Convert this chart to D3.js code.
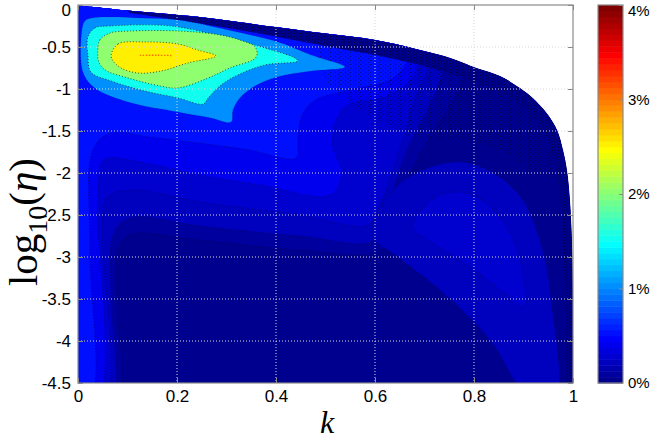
<!DOCTYPE html>
<html><head><meta charset="utf-8">
<script src="https://cdn.jsdelivr.net/npm/d3@7"></script>
<style>body{margin:0;background:#fff}svg{display:block}</style>
</head><body>
<svg id="c" width="650" height="440"></svg>
<script>
// ---------- data ----------
const kTicks = [0, 0.2, 0.4, 0.6, 0.8, 1];
const kTickLabels = ["0", "0.2", "0.4", "0.6", "0.8", "1"];
const etaTicks = [0, -0.5, -1, -1.5, -2, -2.5, -3, -3.5, -4, -4.5];
const etaTickLabels = ["0", "-0.5", "-1", "-1.5", "-2", "-2.5", "-3", "-3.5", "-4", "-4.5"];
const cbTicks = [0, 1, 2, 3, 4];
const cbTickLabels = ["0%", "1%", "2%", "3%", "4%"];

// upper/right edge of the computed domain (k, log10 eta)
const boundary = [[0,-0.01],[0.05,-0.035],[0.1,-0.065],[0.17,-0.1],[0.246,-0.143],[0.32,-0.2],[0.398,-0.262],[0.5,-0.34],[0.6,-0.417],[0.68,-0.52],[0.752,-0.631],[0.8,-0.738],[0.853,-0.845],[0.893,-0.988],[0.919,-1.107],[0.947,-1.286],[0.968,-1.488],[0.98,-1.726],[0.988,-1.964],[0.994,-2.321],[0.998,-2.798],[1.0,-3.5],[1.0,-4.5]];
// inner edge of the near-zero band along the domain edge
const edgeBand = [[0.105,-0.095],[0.202,-0.179],[0.303,-0.274],[0.404,-0.381],[0.509,-0.5],[0.6,-0.595],[0.691,-0.714],[0.772,-0.857],[0.853,-1.036],[0.893,-1.19],[0.933,-1.429],[0.954,-1.667],[0.968,-1.964],[0.974,-2.321],[0.98,-2.798],[0.984,-3.512],[0.986,-4.6]];
// noisy (speckled) area in the upper right
const noisyZone = [[0.5,-0.3],[1.05,-0.3],[1.05,-2.2],[0.93,-2.0],[0.86,-1.75],[0.78,-1.6],[0.7,-1.6],[0.63,-1.45],[0.56,-1.2],[0.5,-0.9]];

// filled contour regions, values in percent
const levels = [0, 0.1, 0.2, 0.3, 0.4, 0.5, 1, 1.5, 2, 2.5, 3];
const region01 = [[-0.04,0.3],[0.8,0.3],[0.78,-0.85],[0.73,-1.4],[0.68,-1.9],[0.64,-2.45],[0.612,-2.917],[0.448,-2.917],[0.246,-2.798],[0.105,-2.738],[0.081,-2.917],[0.079,-3.6],[0.077,-4.7],[-0.04,-4.7]];
const region02 = [[-0.04,0.3],[0.76,0.3],[0.74,-0.75],[0.71,-1.2],[0.665,-1.726],[0.63,-2.321],[0.6,-2.798],[0.448,-2.75],[0.246,-2.631],[0.105,-2.536],[0.071,-2.738],[0.067,-3.512],[0.065,-4.7],[-0.04,-4.7]];
const dome02 = [[0.594,-2.75],[0.62,-2.321],[0.651,-2.119],[0.711,-1.929],[0.778,-1.869],[0.846,-2.024],[0.899,-2.321],[0.939,-2.917],[0.956,-3.512],[0.964,-4.7],[0.913,-4.7],[0.832,-3.988],[0.731,-3.393],[0.64,-2.976]];
const region03 = [[-0.04,0.3],[0.72,0.3],[0.71,-0.7],[0.68,-1.131],[0.65,-1.726],[0.61,-2.381],[0.585,-2.619],[0.448,-2.5],[0.246,-2.345],[0.105,-2.202],[0.057,-2.321],[0.053,-4.7],[-0.04,-4.7]];
const dome03 = [[0.677,-2.643],[0.701,-2.381],[0.731,-2.262],[0.772,-2.226],[0.816,-2.321],[0.867,-2.643],[0.893,-3.036],[0.901,-3.595],[0.853,-3.393],[0.778,-3.06],[0.711,-2.821]];
const region04 = [[-0.04,0.3],[0.691,0.3],[0.691,-0.595],[0.671,-0.893],[0.62,-1.095],[0.539,-1.214],[0.513,-1.607],[0.533,-2.024],[0.509,-2.262],[0.368,-2.143],[0.246,-2.024],[0.125,-1.869],[0.053,-1.845],[0.04,-2.321],[0.038,-4.7],[-0.04,-4.7]];
const region05 = [[-0.04,0.3],[0.66,0.3],[0.666,-0.5],[0.661,-0.714],[0.63,-0.893],[0.549,-1.012],[0.479,-1.131],[0.453,-1.31],[0.444,-1.607],[0.44,-1.821],[0.347,-1.726],[0.246,-1.643],[0.145,-1.571],[0.065,-1.524],[0.03,-1.726],[0.024,-2.917],[0.022,-4.7],[-0.04,-4.7]];
const region10 = [[0.008,-0.298],[0.014,-0.19],[0.028,-0.155],[0.067,-0.143],[0.125,-0.155],[0.202,-0.179],[0.303,-0.298],[0.404,-0.44],[0.471,-0.595],[0.539,-0.738],[0.471,-0.786],[0.402,-0.857],[0.354,-0.976],[0.327,-1.107],[0.313,-1.25],[0.309,-1.393],[0.269,-1.345],[0.202,-1.274],[0.101,-1.155],[0.034,-0.988],[0.01,-0.798]];
const region15 = [[0.02,-0.381],[0.034,-0.274],[0.065,-0.25],[0.188,-0.25],[0.303,-0.393],[0.378,-0.512],[0.438,-0.631],[0.444,-0.667],[0.378,-0.714],[0.323,-0.833],[0.289,-0.952],[0.263,-1.107],[0.253,-1.179],[0.202,-1.107],[0.135,-1.024],[0.067,-0.905],[0.026,-0.798],[0.02,-0.595]];
const region20 = [[0.04,-0.56],[0.044,-0.417],[0.065,-0.333],[0.105,-0.31],[0.206,-0.31],[0.287,-0.357],[0.327,-0.417],[0.358,-0.5],[0.36,-0.62],[0.307,-0.75],[0.263,-0.869],[0.202,-0.988],[0.166,-0.964],[0.101,-0.869],[0.055,-0.774],[0.042,-0.679]];
const region25 = [[0.067,-0.595],[0.081,-0.464],[0.135,-0.44],[0.202,-0.464],[0.242,-0.536],[0.279,-0.607],[0.222,-0.69],[0.168,-0.786],[0.121,-0.81],[0.087,-0.75],[0.071,-0.667]];
const line30 = [[0.125,-0.6],[0.16,-0.598],[0.19,-0.602]];

const lowRegions = [[levels[1], region01], [levels[2], region02], [levels[2], dome02], [levels[3], region03], [levels[3], dome03], [levels[4], region04], [levels[5], region05]];
const highRegions = [[levels[6], region10], [levels[7], region15], [levels[8], region20], [levels[9], region25]];

// ---------- colour map (MATLAB jet, 64 steps) ----------
function jet64(i) {
  const r = i <= 24 ? 0 : i <= 40 ? (i - 24) / 16 : i <= 56 ? 1 : 1 - (i - 56) / 16;
  const g = i <= 8 ? 0 : i <= 24 ? (i - 8) / 16 : i <= 40 ? 1 : i <= 55 ? 1 - (i - 40) / 16 : 0;
  const b = i <= 8 ? (8 + i) / 16 : i <= 24 ? 1 : i <= 39 ? 1 - (i - 24) / 16 : 0;
  return d3.rgb(Math.round(r * 255), Math.round(g * 255), Math.round(b * 255)).formatHex();
}
const cmin = 0, cmax = 4, nColors = 64;
const levelColor = v => jet64(Math.min(nColors, Math.floor((v - cmin) / (cmax - cmin) * nColors + 1e-9) + 1));

// ---------- layout ----------
const svg = d3.select("#c");
const x = d3.scaleLinear().domain([0, 1]).range([78, 573]);
const y = d3.scaleLinear().domain([-4.5, 0]).range([383, 5]);
const cbY = d3.scaleLinear().domain([cmin, cmax]).range([383, 5]);
const cbX0 = 598, cbX1 = 623;
const FONT = "'Liberation Sans', Arial, Helvetica, sans-serif";
const frameCol = "#8a8a8a";

const openLine = d3.line().x(d => x(d[0])).y(d => y(d[1])).curve(d3.curveCatmullRom.alpha(0.5));
const closedLine = d3.line().x(d => x(d[0])).y(d => y(d[1])).curve(d3.curveCatmullRomClosed.alpha(0.5));

const domainPath = openLine(boundary) + "L" + x(0) + "," + y(-4.5) + "Z";

const defs = svg.append("defs");
defs.append("clipPath").attr("id", "dom").append("path").attr("d", domainPath);
const pat = defs.append("pattern").attr("id", "dots").attr("patternUnits", "userSpaceOnUse")
  .attr("width", 3).attr("height", 3);
pat.append("rect").attr("x", 0).attr("y", 0).attr("width", 1).attr("height", 1).attr("fill", "#000").attr("opacity", 0.5);
pat.append("rect").attr("x", 2).attr("y", 1.5).attr("width", 1).attr("height", 1).attr("fill", "#000").attr("opacity", 0.3);
const pat2 = defs.append("pattern").attr("id", "speck").attr("patternUnits", "userSpaceOnUse")
  .attr("width", 5).attr("height", 4);
pat2.append("rect").attr("x", 0).attr("y", 0).attr("width", 1).attr("height", 1).attr("fill", "#000").attr("opacity", 0.45);
pat2.append("rect").attr("x", 3).attr("y", 2).attr("width", 1).attr("height", 1).attr("fill", "#000").attr("opacity", 0.3);

const field = svg.append("g").attr("clip-path", "url(#dom)");
field.append("path").attr("d", domainPath).attr("fill", levelColor(levels[0]));

lowRegions.forEach(([lv, poly]) => {
  field.append("path").attr("d", closedLine(poly)).attr("fill", levelColor(lv))
    .attr("stroke", "#000010").attr("stroke-opacity", 0.35).attr("stroke-width", 1.2)
    .attr("stroke-dasharray", "1 2");
});
field.append("path").attr("d", closedLine(noisyZone)).attr("fill", "url(#speck)");

// near-zero band along the domain edge
const bandStart = boundary.filter(d => d[0] >= 0.1);
const bandPath = openLine(bandStart) + "L" + x(1.02) + "," + y(-4.7) + openLine(edgeBand.slice().reverse()).replace("M", "L") + "Z";
field.append("path").attr("d", bandPath).attr("fill", levelColor(levels[0]));
field.append("path").attr("d", bandPath).attr("fill", "url(#dots)");

highRegions.forEach(([lv, poly]) => {
  field.append("path").attr("d", closedLine(poly)).attr("fill", levelColor(lv))
    .attr("stroke", "#1a1a1a").attr("stroke-opacity", lv >= 1.5 ? 0.75 : 0.3).attr("stroke-width", 1)
    .attr("stroke-dasharray", "1 2");
});
field.append("path").attr("d", openLine(line30)).attr("fill", "none")
  .attr("stroke", levelColor(levels[10])).attr("stroke-width", 1.3).attr("stroke-dasharray", "1.5 1.5");

// ---------- grid ----------
const grid = svg.append("g").attr("stroke", "#d8d8d8").attr("stroke-width", 1).attr("stroke-dasharray", "1 2");
kTicks.slice(1, -1).forEach(k => grid.append("line").attr("x1", x(k)).attr("x2", x(k)).attr("y1", y(0)).attr("y2", y(-4.5)));
etaTicks.slice(1, -1).forEach(e => grid.append("line").attr("x1", x(0)).attr("x2", x(1)).attr("y1", y(e)).attr("y2", y(e)));

// ---------- axes ----------
function styleAxis(size) {
  return g => {
    g.select(".domain").remove();
    g.selectAll(".tick line").attr("stroke", frameCol);
    g.selectAll("text").attr("font-family", FONT).attr("font-size", size).attr("fill", "#000");
  };
}
svg.append("g").attr("transform", `translate(0,${y(-4.5)})`)
  .call(d3.axisBottom(x).tickValues(kTicks).tickFormat((d, i) => kTickLabels[i]).tickSizeInner(-5).tickSizeOuter(0).tickPadding(7))
  .call(styleAxis(17));
svg.append("g").attr("transform", `translate(0,${y(0)})`)
  .call(d3.axisTop(x).tickValues(kTicks).tickFormat("").tickSizeInner(-5).tickSizeOuter(0))
  .call(styleAxis(17));
const yAxisG = svg.append("g").attr("transform", `translate(${x(0)},0)`)
  .call(d3.axisLeft(y).tickValues(etaTicks).tickFormat((d, i) => etaTickLabels[i]).tickSizeInner(-5).tickSizeOuter(0).tickPadding(7))
  .call(styleAxis(17));
yAxisG.selectAll(".tick text").filter(d => d === 0).attr("dy", "0.62em");
svg.append("g").attr("transform", `translate(${x(1)},0)`)
  .call(d3.axisRight(y).tickValues(etaTicks).tickFormat("").tickSizeInner(-5).tickSizeOuter(0))
  .call(styleAxis(17));
svg.append("rect").attr("x", x(0)).attr("y", y(0)).attr("width", x(1) - x(0)).attr("height", y(-4.5) - y(0))
  .attr("fill", "none").attr("stroke", frameCol).attr("stroke-width", 1.2);

// axis titles
svg.append("text").attr("x", 327).attr("y", 433).attr("text-anchor", "middle")
  .attr("font-family", "'Liberation Serif','DejaVu Serif',serif").attr("font-style", "italic").attr("font-size", 32)
  .text("k");
const yt = svg.append("text").attr("transform", "translate(37,222) rotate(-90)").attr("text-anchor", "middle")
  .attr("font-family", "'Liberation Serif','DejaVu Serif',serif").attr("font-size", 41);
yt.append("tspan").text("log");
yt.append("tspan").attr("font-size", 28).attr("dy", 10).text("10");
yt.append("tspan").attr("dy", -10).text("(");
yt.append("tspan").attr("font-style", "italic").text("η");
yt.append("tspan").text(")");

// ---------- colour bar ----------
const cb = svg.append("g");
d3.range(nColors).forEach(i => {
  const v0 = cmin + (cmax - cmin) * i / nColors, v1 = cmin + (cmax - cmin) * (i + 1) / nColors;
  cb.append("rect").attr("x", cbX0).attr("width", cbX1 - cbX0)
    .attr("y", cbY(v1)).attr("height", cbY(v0) - cbY(v1) + 0.5).attr("fill", jet64(i + 1));
});
cb.append("rect").attr("x", cbX0).attr("y", cbY(cmax)).attr("width", cbX1 - cbX0).attr("height", cbY(cmin) - cbY(cmax))
  .attr("fill", "none").attr("stroke", frameCol).attr("stroke-width", 1.2);
const cbAxisG = svg.append("g").attr("transform", `translate(${cbX1},0)`)
  .call(d3.axisRight(cbY).tickValues(cbTicks).tickFormat((d, i) => cbTickLabels[i]).tickSizeInner(-4).tickSizeOuter(0).tickPadding(5))
  .call(styleAxis(15));
cbAxisG.selectAll(".tick text").filter(d => d === cmax).attr("dy", "0.7em");
</script>
</body></html>
